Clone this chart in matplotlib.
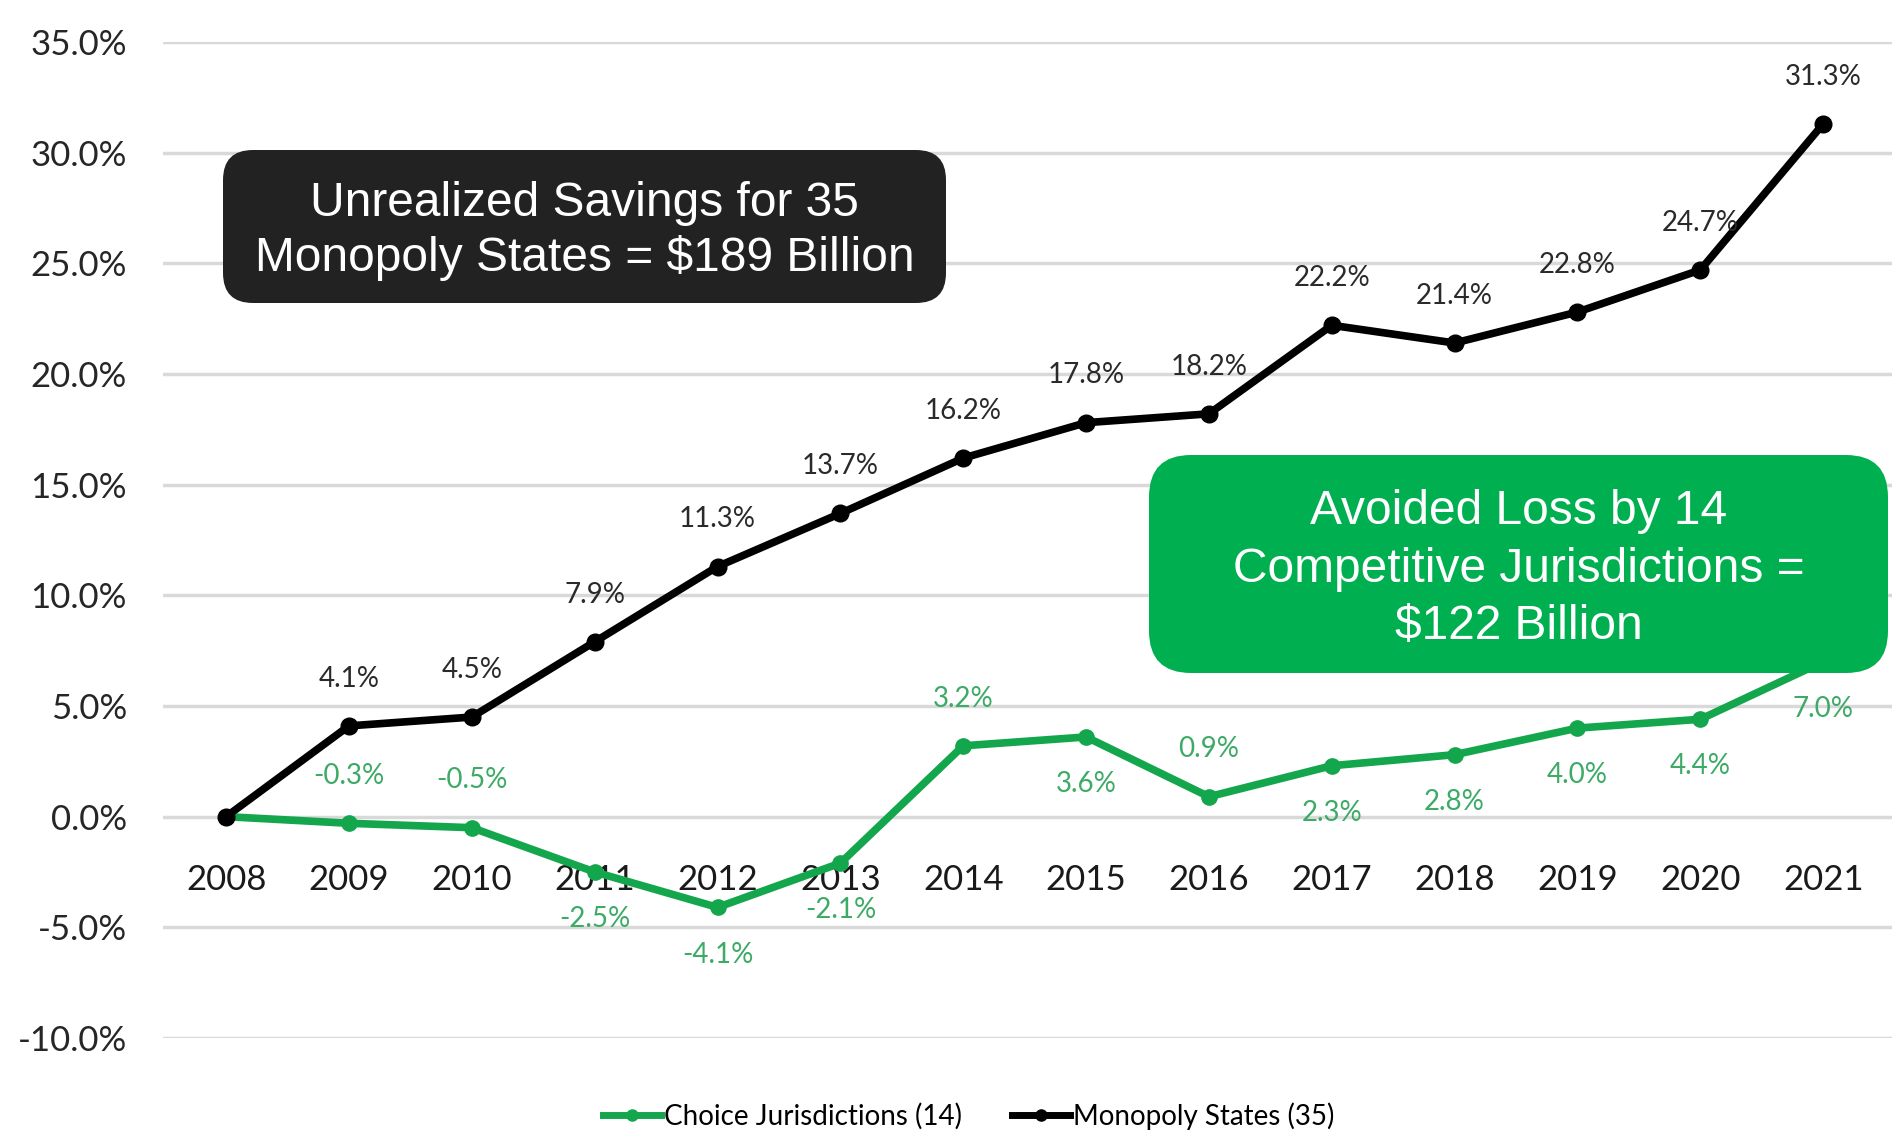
import matplotlib.pyplot as plt
from matplotlib.patches import FancyBboxPatch
from matplotlib.lines import Line2D
from matplotlib.transforms import IdentityTransform


years = [
    "2008", "2009", "2010", "2011", "2012", "2013", "2014",
    "2015", "2016", "2017", "2018", "2019", "2020", "2021"
]

# cumulative price change since 2008, percent
choice_values = [
    0.0, -0.3, -0.5, -2.5, -4.1, -2.1, 3.2,
    3.6, 0.9, 2.3, 2.8, 4.0, 4.4, 7.0
]
monopoly_values = [
    0.0, 4.1, 4.5, 7.9, 11.3, 13.7, 16.2,
    17.8, 18.2, 22.2, 21.4, 22.8, 24.7, 31.3
]

# which side of the point each green label sits on (+1 above, -1 below)
choice_label_side = [
    0, 1, 1, -1, -1, -1, 1,
    -1, 1, -1, -1, -1, -1, -1
]

y_ticks = list(range(-10, 36, 5))

series_names = [
    "Choice Jurisdictions (14)",
    "Monopoly States (35)"
]

black_note = "Unrealized Savings for 35\nMonopoly States = $189 Billion"
green_note = "Avoided Loss by 14\nCompetitive Jurisdictions =\n$122 Billion"

GREEN_LINE = "#14A64C"
GREEN_LABEL = "#3DAA66"
GREEN_BOX = "#00B050"
BLACK_BOX = "#222222"
LABEL_DARK = "#2A2A2A"
GRID = "#D9D9D9"

AXIS_FONT = ["Lato", "DejaVu Sans"]
BOX_FONT = ["Liberation Sans", "DejaVu Sans"]


fig = plt.figure(figsize=(18.92, 11.38), dpi=100)
ax = fig.add_axes([0.0862, 0.0879, 0.9138, 0.8752])

# category axis crosses at zero (set first, it resets the ticks)
ax.spines["bottom"].set_position(("data", 0))

x = list(range(len(years)))

ax.plot(
    x,
    choice_values,
    color=GREEN_LINE,
    linewidth=5.5,
    marker="o",
    markersize=11,
    solid_joinstyle="round",
    zorder=3
)

ax.plot(
    x,
    monopoly_values,
    color="black",
    linewidth=5.5,
    marker="o",
    markersize=12,
    solid_joinstyle="round",
    zorder=4
)

# value labels
for i, v in enumerate(monopoly_values):
    if i == 0:
        continue
    ax.annotate(
        f"{v:.1f}%",
        (i, v),
        xytext=(0, 34),
        textcoords="offset points",
        ha="center",
        va="center",
        fontsize=20,
        family=AXIS_FONT,
        color=LABEL_DARK,
        zorder=5
    )

for i, v in enumerate(choice_values):
    side = choice_label_side[i]
    if side == 0:
        continue
    ax.annotate(
        f"{v:.1f}%",
        (i, v),
        xytext=(0, 34 * side),
        textcoords="offset points",
        ha="center",
        va="center",
        fontsize=20,
        family=AXIS_FONT,
        color=GREEN_LABEL,
        zorder=5
    )

ax.set_xlim(-0.513, 13.56)
ax.set_ylim(-10, 35)

ax.set_yticks(y_ticks)
ax.set_yticklabels(
    [f"{t:.1f}%" for t in y_ticks],
    family=AXIS_FONT,
    fontsize=25,
    color="#262626"
)

ax.set_xticks(x)
ax.set_xticklabels(
    years,
    family=AXIS_FONT,
    fontsize=25,
    color="#1A1A1A"
)

for side in ["top", "right", "left", "bottom"]:
    ax.spines[side].set_visible(False)

ax.tick_params(axis="y", length=0, pad=26)
ax.tick_params(axis="x", length=0, pad=34)

ax.grid(axis="y", color=GRID, linewidth=2.5, zorder=0)
ax.set_axisbelow(True)

# legend below the plot
handles = [
    Line2D([0], [0], color=GREEN_LINE, linewidth=5,
           marker="o", markersize=8),
    Line2D([0], [0], color="black", linewidth=5,
           marker="o", markersize=8)
]

fig.legend(
    handles,
    series_names,
    loc="center",
    bbox_to_anchor=(0.512, 1 - 1116 / 1138),
    ncol=2,
    frameon=False,
    handlelength=2.1,
    handletextpad=0.1,
    columnspacing=1.8,
    prop={"family": AXIS_FONT, "size": 20}
)

# callout boxes, in figure pixels
black_box = FancyBboxPatch(
    (223, 835), 723, 153,
    boxstyle="round,pad=0,rounding_size=30",
    facecolor=BLACK_BOX,
    edgecolor="none",
    transform=IdentityTransform(),
    zorder=10
)
fig.add_artist(black_box)

green_box = FancyBboxPatch(
    (1149, 465), 739, 218,
    boxstyle="round,pad=0,rounding_size=42",
    facecolor=GREEN_BOX,
    edgecolor="none",
    transform=IdentityTransform(),
    zorder=10
)
fig.add_artist(green_box)

fig.text(
    (223 + 723 / 2) / 1892,
    (835 + 153 / 2 - 5) / 1138,
    black_note,
    ha="center",
    va="center",
    color="white",
    fontsize=34.5,
    linespacing=1.25,
    family=BOX_FONT,
    zorder=11
)

fig.text(
    (1149 + 739 / 2) / 1892,
    (465 + 218 / 2 - 5) / 1138,
    green_note,
    ha="center",
    va="center",
    color="white",
    fontsize=34.5,
    linespacing=1.35,
    family=BOX_FONT,
    zorder=11
)

fig.savefig("out.png", dpi=100)
